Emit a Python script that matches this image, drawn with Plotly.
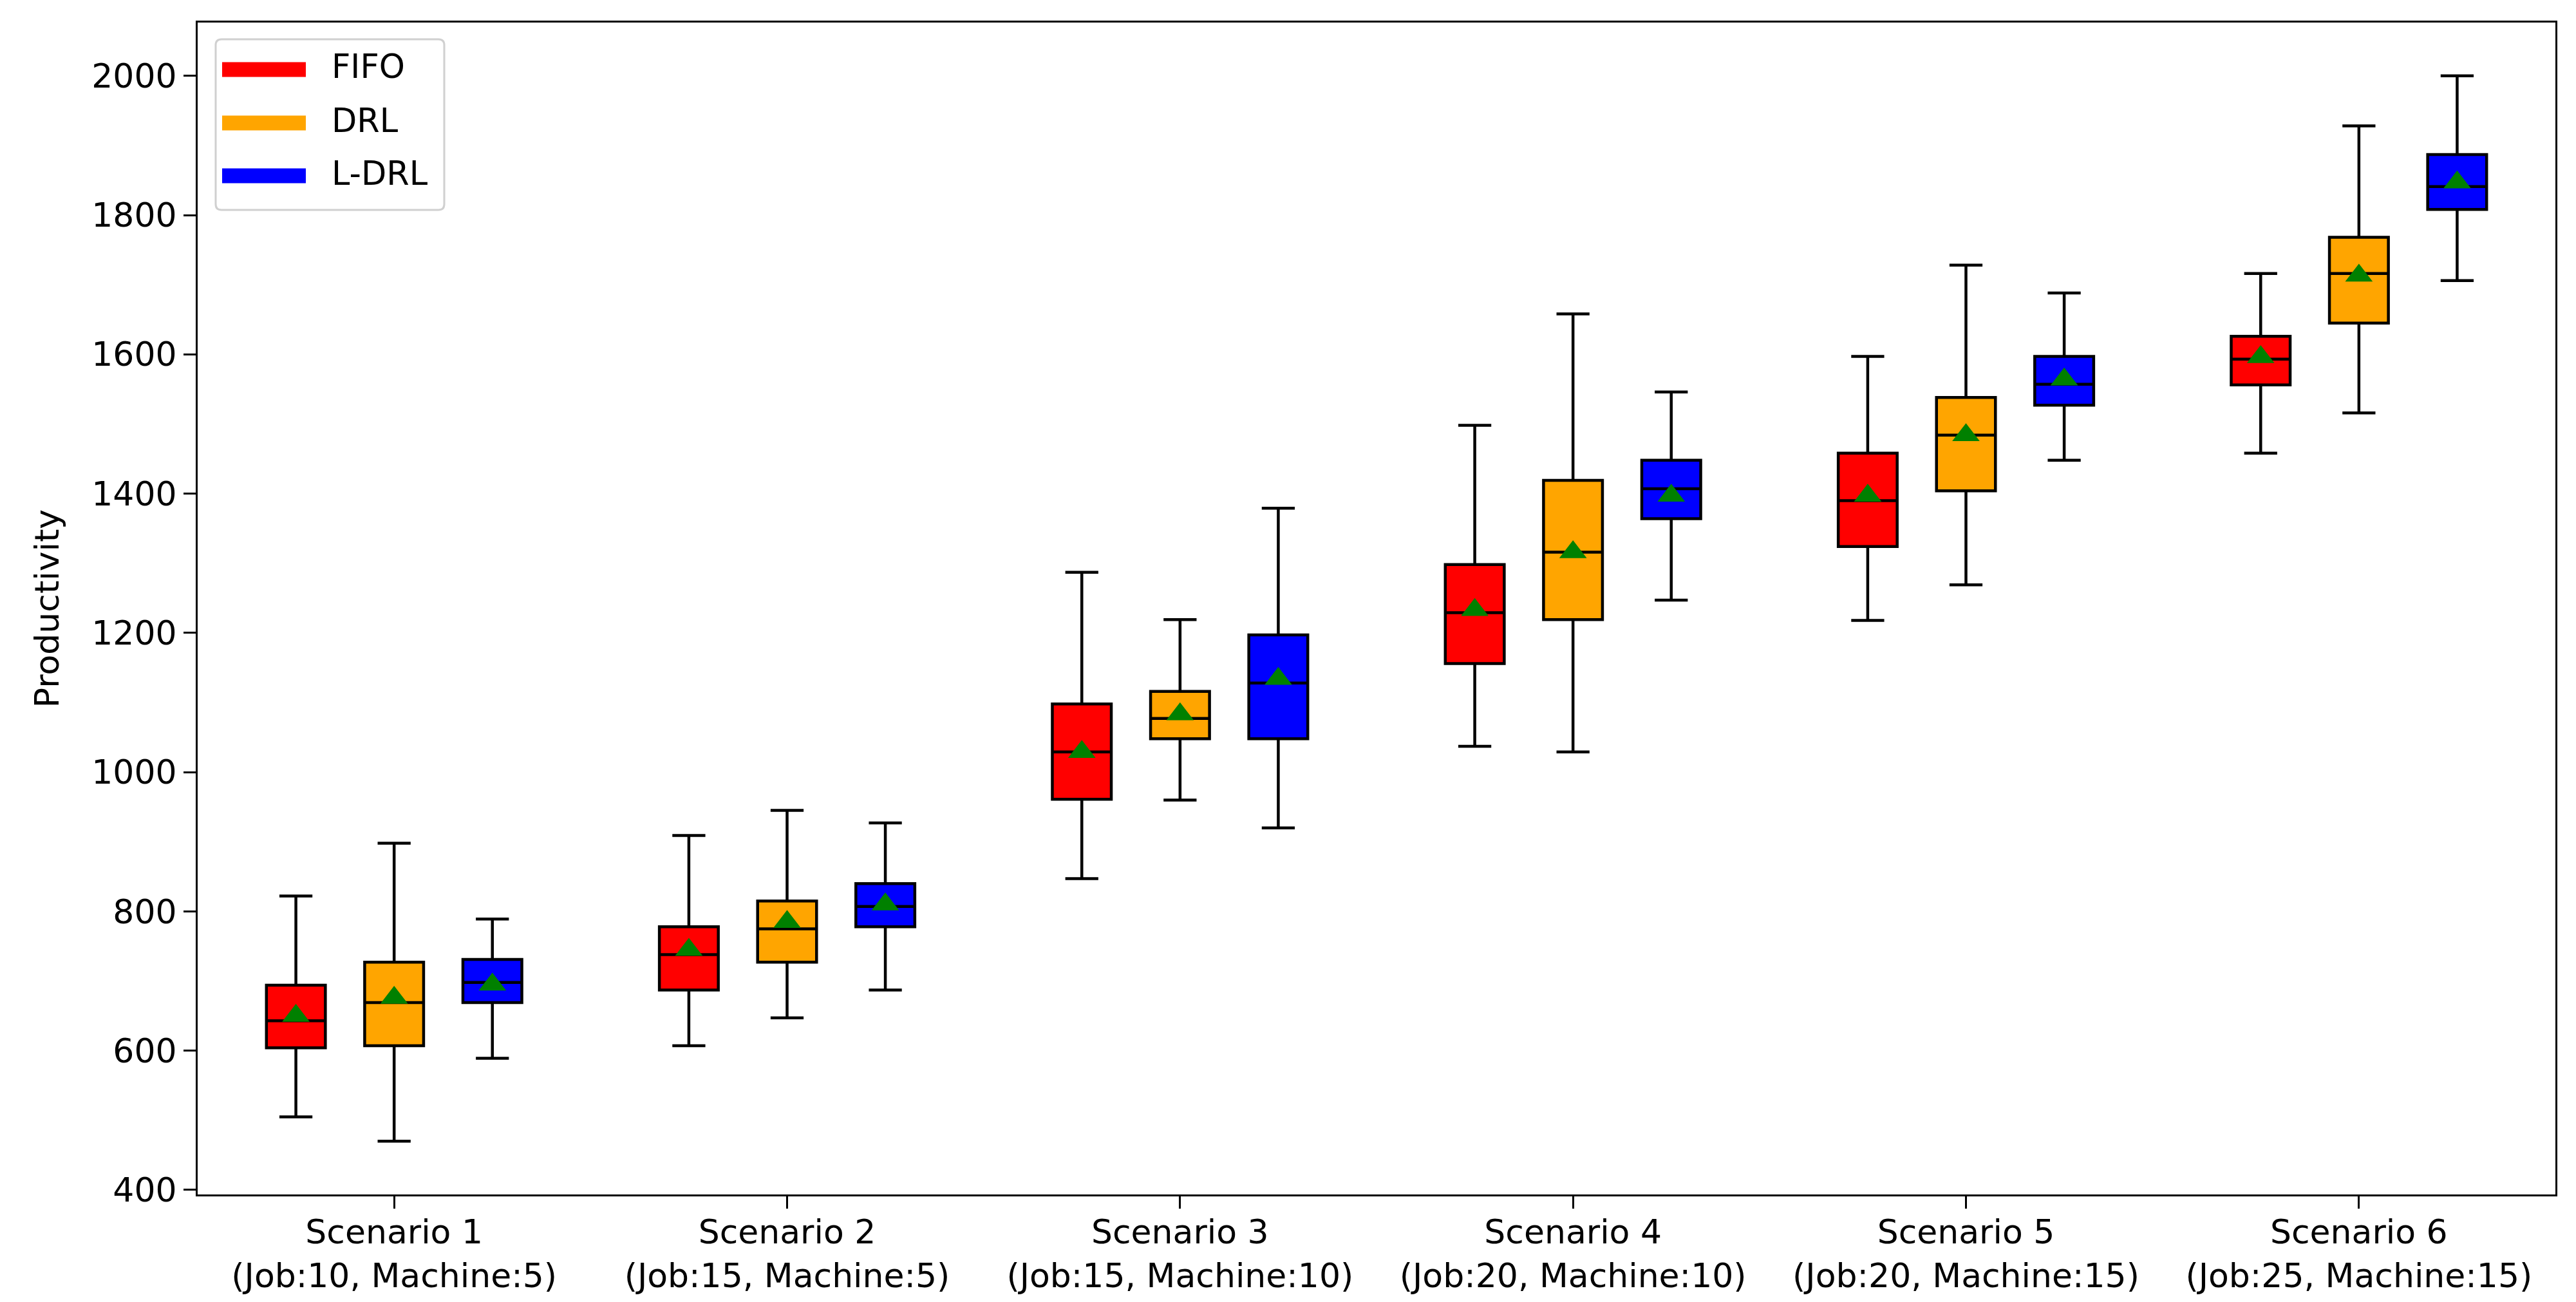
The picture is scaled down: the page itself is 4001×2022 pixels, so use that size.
import plotly.graph_objects as go

# ---------------- data ----------------
scenarios = ["Scenario 1", "Scenario 2", "Scenario 3", "Scenario 4", "Scenario 5", "Scenario 6"]
configs = ["(Job:10, Machine:5)", "(Job:15, Machine:5)", "(Job:15, Machine:10)",
           "(Job:20, Machine:10)", "(Job:20, Machine:15)", "(Job:25, Machine:15)"]
positions = [1, 2, 3, 4, 5, 6]
methods = ["FIFO", "DRL", "L-DRL"]

fifo_low = [505, 607, 847, 1037, 1218, 1458]
fifo_q1 = [604, 687, 961, 1156, 1324, 1556]
fifo_med = [643, 738, 1029, 1229, 1390, 1593]
fifo_q3 = [694, 778, 1098, 1298, 1458, 1626]
fifo_high = [822, 909, 1287, 1498, 1597, 1716]
fifo_mean = [650, 745, 1029, 1233, 1397, 1596]

drl_low = [470, 647, 960, 1029, 1269, 1516]
drl_q1 = [607, 727, 1048, 1219, 1404, 1645]
drl_med = [669, 775, 1077, 1316, 1484, 1716]
drl_q3 = [727, 815, 1116, 1419, 1538, 1768]
drl_high = [898, 945, 1219, 1658, 1728, 1928]
drl_mean = [676, 785, 1083, 1316, 1484, 1713]

ldrl_low = [589, 687, 920, 1247, 1448, 1706]
ldrl_q1 = [669, 778, 1048, 1364, 1527, 1808]
ldrl_med = [698, 807, 1128, 1407, 1557, 1841]
ldrl_q3 = [731, 840, 1197, 1448, 1597, 1887]
ldrl_high = [789, 927, 1379, 1546, 1688, 2000]
ldrl_mean = [695, 810, 1134, 1397, 1564, 1847]

colors = ["#ff0000", "#ffa500", "#0000ff"]
offsets = [-0.25, 0.0, 0.25]

stats = [
    (fifo_low, fifo_q1, fifo_med, fifo_q3, fifo_high, fifo_mean),
    (drl_low, drl_q1, drl_med, drl_q3, drl_high, drl_mean),
    (ldrl_low, ldrl_q1, ldrl_med, ldrl_q3, ldrl_high, ldrl_mean),
]

FONT = "DejaVu Sans"
W, H = 4001, 2022
ML, MR, MT, MB = 299, 40, 27, 175
PW, PH = W - ML - MR, H - MT - MB

fig = go.Figure()

for name, color, off, (lo, q1, med, q3, hi, mn) in zip(methods, colors, offsets, stats):
    xs = [p + off for p in positions]
    fig.add_trace(go.Box(
        x=xs, q1=q1, median=med, q3=q3, lowerfence=lo, upperfence=hi,
        width=0.15, whiskerwidth=0.56,
        fillcolor=color, line=dict(color="black", width=4.5),
        showlegend=False, name=name, boxpoints=False,
    ))
    fig.add_trace(go.Scatter(
        x=xs, y=mn, mode="markers",
        marker=dict(symbol="triangle-up", size=37, color="#008000", line=dict(width=0)),
        showlegend=False, name=name + " mean",
    ))

# ---------------- legend (matplotlib-style line handles) ----------------
def px_x(px):
    return (px - ML) / PW

def px_y(py):
    return 1 - (py - MT) / PH

shapes = []
lx0, lx1, ly0, ly1, r = 327, 682, 53, 318, 9
path = (f"M {px_x(lx0 + r)},{px_y(ly0)} L {px_x(lx1 - r)},{px_y(ly0)} "
        f"Q {px_x(lx1)},{px_y(ly0)} {px_x(lx1)},{px_y(ly0 + r)} "
        f"L {px_x(lx1)},{px_y(ly1 - r)} Q {px_x(lx1)},{px_y(ly1)} {px_x(lx1 - r)},{px_y(ly1)} "
        f"L {px_x(lx0 + r)},{px_y(ly1)} Q {px_x(lx0)},{px_y(ly1)} {px_x(lx0)},{px_y(ly1 - r)} "
        f"L {px_x(lx0)},{px_y(ly0 + r)} Q {px_x(lx0)},{px_y(ly0)} {px_x(lx0 + r)},{px_y(ly0)} Z")
shapes.append(dict(type="path", xref="paper", yref="paper", path=path,
                   fillcolor="rgba(255,255,255,0.8)", line=dict(color="#d0d0d0", width=3),
                   layer="above"))
annotations = []
item_y = [100, 183, 265]
for name, color, iy in zip(methods, colors, item_y):
    shapes.append(dict(type="line", xref="paper", yref="paper",
                       x0=px_x(337), x1=px_x(467), y0=px_y(iy), y1=px_y(iy),
                       line=dict(color=color, width=23), layer="above"))
    annotations.append(dict(xref="paper", yref="paper", x=px_x(505), y=px_y(iy - 4),
                            text=name, showarrow=False, xanchor="left", yanchor="middle",
                            font=dict(family=FONT, size=51, color="black")))

ticktext = [f"{s}<br>{c}" for s, c in zip(scenarios, configs)]

fig.update_layout(
    width=W, height=H,
    margin=dict(l=ML, r=MR, t=MT, b=MB),
    paper_bgcolor="white", plot_bgcolor="white",
    font=dict(family=FONT, size=52, color="black"),
    boxmode="overlay",
    showlegend=False,
    shapes=shapes,
    annotations=annotations,
    xaxis=dict(
        range=[0.5, 6.5], tickmode="array", tickvals=positions, ticktext=ticktext,
        showline=True, mirror=True, linecolor="black", linewidth=3,
        ticks="outside", ticklen=19, tickwidth=3, tickcolor="black",
        showgrid=False, zeroline=False, ticklabelstandoff=-8,
        tickfont=dict(family=FONT, size=52, color="black"),
    ),
    yaxis=dict(
        range=[393.5, 2076.5], tick0=400, dtick=200,
        showline=True, mirror=True, linecolor="black", linewidth=3,
        ticks="outside", ticklen=19, tickwidth=3, tickcolor="black",
        showgrid=False, zeroline=False,
        tickfont=dict(family=FONT, size=52, color="black"),
        title=dict(text="Productivity", standoff=35, font=dict(family=FONT, size=52, color="black")),
    ),
)

fig.write_html("out.html")
